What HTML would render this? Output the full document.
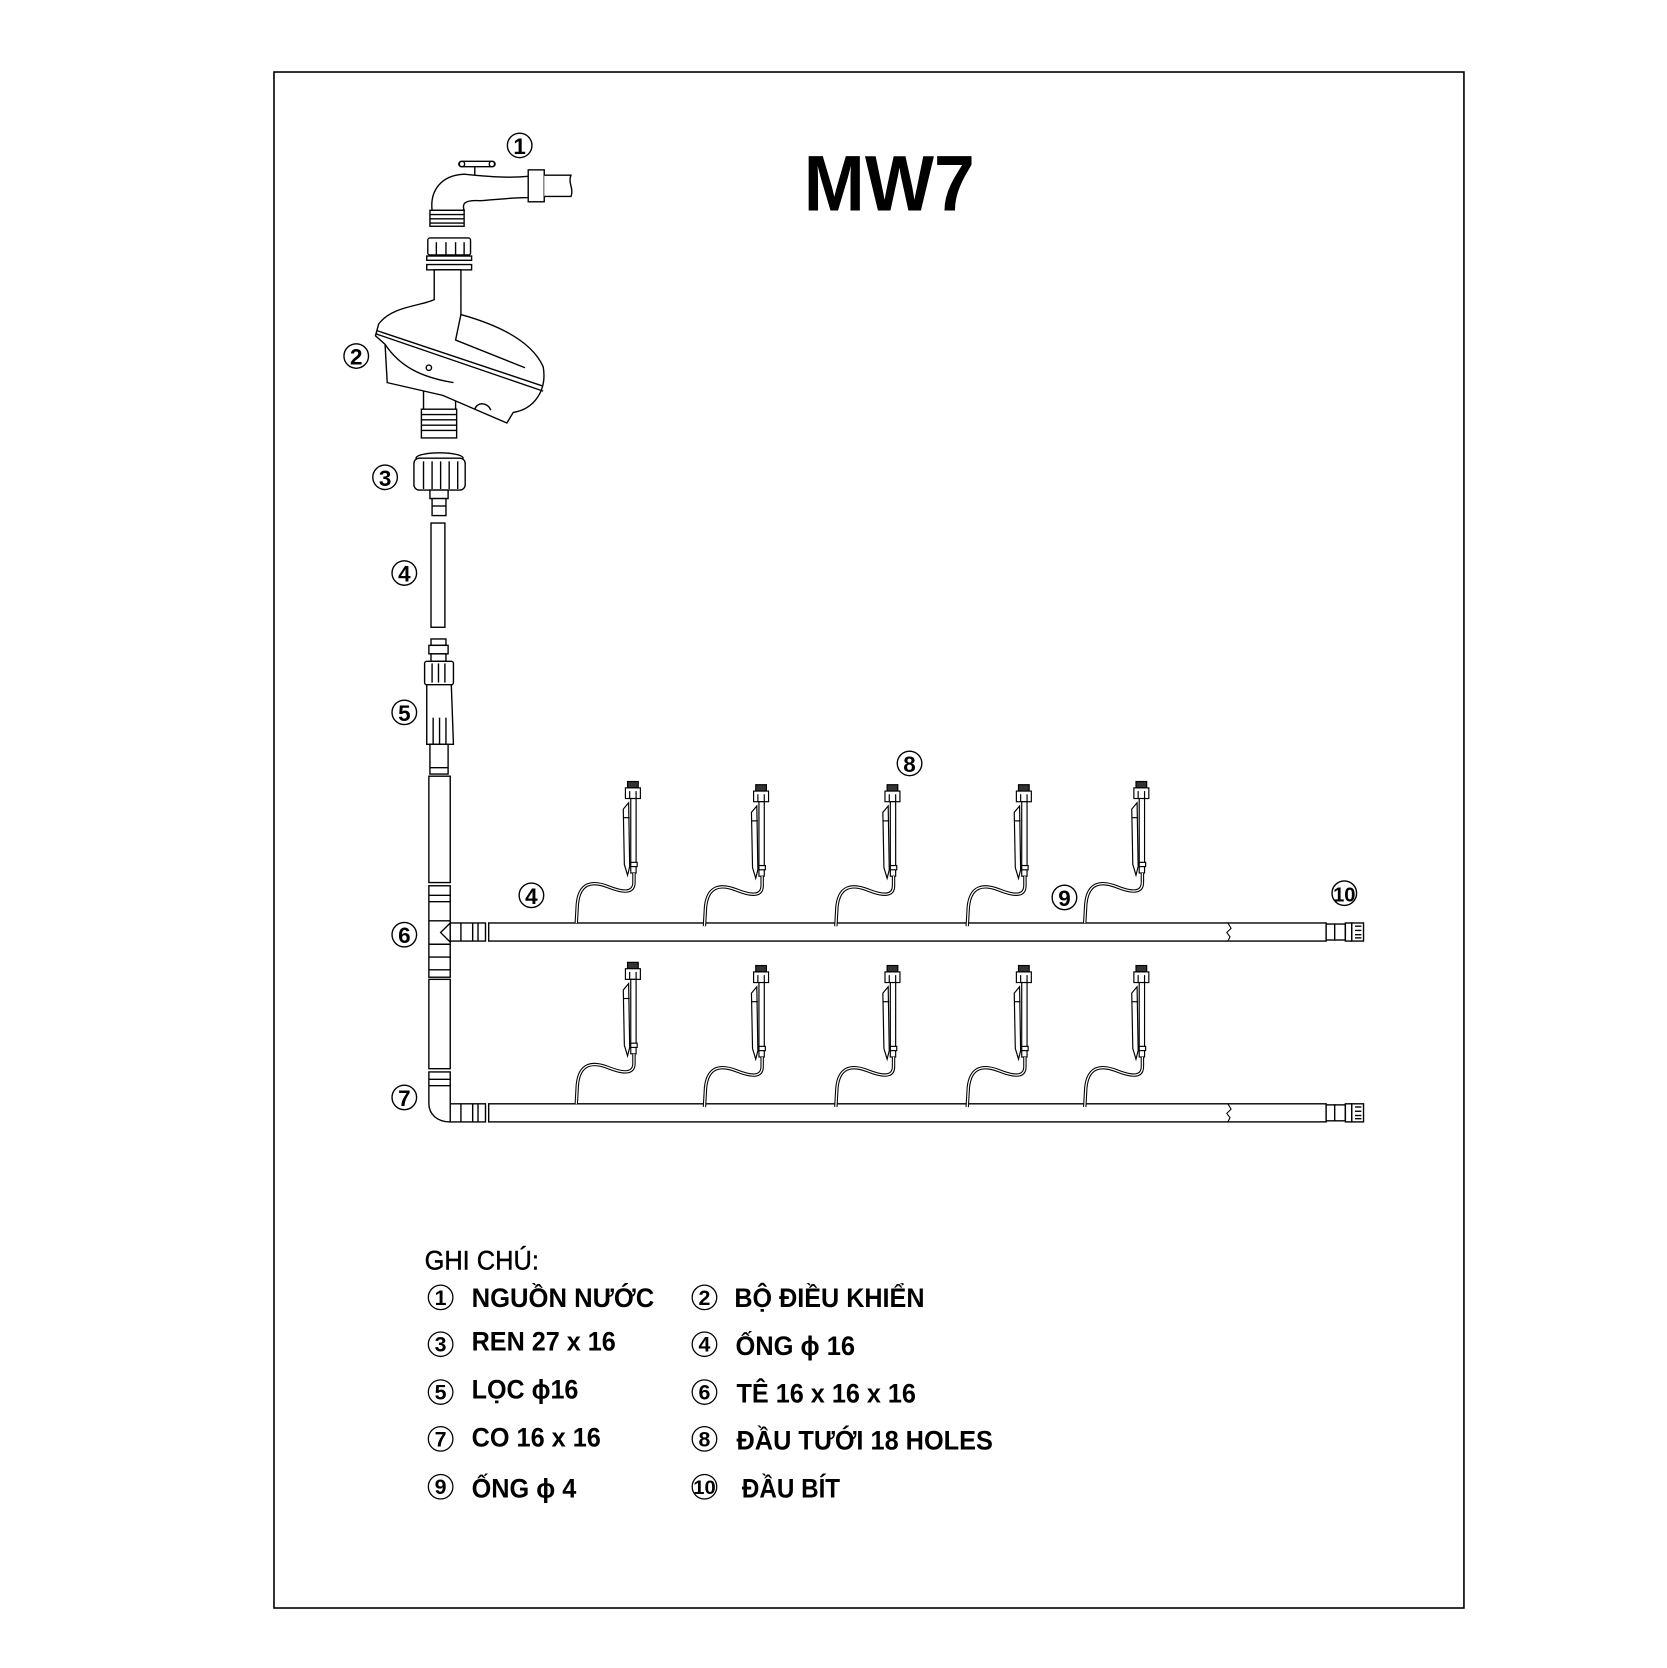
<!DOCTYPE html>
<html><head><meta charset="utf-8"><style>
html,body{margin:0;padding:0;background:#fff;}
svg{display:block;}
text{font-family:"Liberation Sans",Arial,sans-serif;}
</style></head><body>
<svg width="1667" height="1668" viewBox="5.5 0.3 1560.6 1568.1" preserveAspectRatio="none" xmlns="http://www.w3.org/2000/svg">
<defs>
<g id="sp" fill="#fff" stroke="#000" stroke-width="1.1">
  <rect x="-5" y="0" width="10" height="6" fill="#333"/>
  <rect x="-7" y="6" width="14" height="10"/>
  <line x1="-3" y1="9" x2="-3" y2="16"/><line x1="3" y1="9" x2="3" y2="16"/>
  <path d="M-4,20 L-9,26 L-8,78 L-5,88 L-3,80 Z"/>
  <rect x="-2" y="16" width="5" height="70"/>
  <line x1="-9" y1="34" x2="-3" y2="34"/>
  <rect x="-2" y="76" width="6" height="4"/>
  <path d="M1,86 L1,95 C1,107 -13,103 -23,99 C-38,93 -50,95 -52,115 L-53,133" fill="none" stroke-width="3.2"/>
  <path d="M1,86 L1,95 C1,107 -13,103 -23,99 C-38,93 -50,95 -52,115 L-53,133" fill="none" stroke="#fff" stroke-width="1.2"/>
</g>
<g id="pipe" fill="#fff" stroke="#000" stroke-width="1.3">
  <rect x="463" y="0" width="784" height="17"/>
  <path d="M1155,0 l3,5 l-4,4 l3,4 l-2,4" fill="none" stroke-width="1"/>
  <rect x="1247" y="1" width="8" height="15"/>
  <rect x="1255" y="1" width="10" height="15"/>
  <rect x="1265" y="0" width="6" height="17"/>
  <rect x="1271" y="0" width="11" height="17"/>
  <line x1="1274" y1="3" x2="1280" y2="3"/><line x1="1274" y1="7" x2="1280" y2="7"/><line x1="1274" y1="11" x2="1280" y2="11"/><line x1="1274" y1="14" x2="1280" y2="14"/>
</g>
</defs>

<rect x="262" y="68" width="1114" height="1444" fill="none" stroke="#000" stroke-width="1.5"/>

<text x="758" y="198" font-size="74" font-weight="bold" textLength="160" lengthAdjust="spacingAndGlyphs">MW7</text>

<g fill="#fff" stroke="#000" stroke-width="1.3">
  <line x1="450" y1="155" x2="450" y2="168"/>
  <rect x="435" y="152" width="34" height="5" rx="2.5"/>
  <circle cx="438" cy="154.5" r="2.5"/><circle cx="466" cy="154.5" r="2.5"/>
  <path d="M410,198 C408,180 418,165 440,164 C460,166 480,168 500,166 L500,186 C485,186 470,188 455,189 C440,188 438,192 440,198 Z"/>
  <rect x="500" y="160" width="15" height="30"/>
  <path d="M515,165 L540,165 C537,172 543,178 540,185 L515,185"/>
  <rect x="408" y="198" width="32" height="15"/>
  <line x1="408" y1="202" x2="440" y2="202"/><line x1="408" y1="206" x2="440" y2="206"/><line x1="408" y1="210" x2="440" y2="210"/>
  <rect x="406" y="224" width="40" height="16" rx="2"/>
  <line x1="414" y1="228" x2="414" y2="240"/><line x1="423" y1="228" x2="423" y2="240"/><line x1="432" y1="228" x2="432" y2="240"/><line x1="440" y1="228" x2="440" y2="240"/>
  <rect x="405" y="241" width="42" height="4"/>
  <rect x="405" y="249" width="42" height="5"/>
  <rect x="402" y="355" width="30" height="32"/>
  <rect x="400" y="385" width="33" height="27"/>
  <line x1="400" y1="390" x2="433" y2="390"/><line x1="400" y1="395" x2="433" y2="395"/><line x1="400" y1="400" x2="433" y2="400"/><line x1="400" y1="405" x2="433" y2="405"/>
  <path d="M412,254 L412,282 C400,288 372,288 360,305 L357,316 L366,324 L368,360 L420,372 L480,398 L486,388 C505,385 518,368 514,345 C505,325 480,308 437,296 L437,254 Z"/>
  <line x1="357" y1="314" x2="514" y2="368"/>
  <line x1="358" y1="311" x2="513" y2="363"/>
  <path d="M437,296 L432,320 L497,346" fill="none"/>
  <path d="M366,324 C380,345 400,355 430,360" fill="none"/>
  <circle cx="407" cy="346" r="2.5"/>
  <path d="M450,385 C452,378 462,378 465,386" fill="none"/>
  <ellipse cx="417" cy="431" rx="22" ry="5"/>
  <rect x="393" y="431" width="48" height="30" rx="5"/>
  <line x1="402" y1="434" x2="402" y2="460"/><line x1="410" y1="434" x2="410" y2="460"/><line x1="418" y1="434" x2="418" y2="460"/><line x1="426" y1="434" x2="426" y2="460"/><line x1="434" y1="434" x2="434" y2="460"/>
  <rect x="408" y="461" width="17" height="8"/>
  <rect x="410" y="469" width="13" height="16"/>
  <line x1="410" y1="476" x2="423" y2="476"/>
  <rect x="409" y="492" width="13" height="98"/>
  <rect x="409" y="601" width="14" height="6"/><rect x="407" y="607" width="18" height="8"/><rect x="409" y="615" width="14" height="7"/>
  <rect x="403" y="622" width="27" height="22" rx="2"/>
  <line x1="410" y1="624" x2="410" y2="642"/><line x1="416" y1="624" x2="416" y2="642"/><line x1="422" y1="624" x2="422" y2="642"/>
  <path d="M405,644 L428,644 L430,700 L405,700 Z"/>
  <line x1="411" y1="675" x2="411" y2="700"/><line x1="417" y1="675" x2="417" y2="700"/><line x1="423" y1="675" x2="423" y2="700"/>
  <rect x="408" y="700" width="17" height="28"/>
  <line x1="408" y1="722" x2="425" y2="722"/>
  <rect x="407" y="730" width="20" height="100"/>
  <rect x="407" y="833" width="20" height="86"/>
  <line x1="407" y1="842" x2="427" y2="842"/><line x1="407" y1="848" x2="427" y2="848"/>
  <line x1="407" y1="866" x2="427" y2="866"/><line x1="407" y1="888" x2="427" y2="888"/>
  <line x1="407" y1="900" x2="427" y2="900"/><line x1="407" y1="912" x2="427" y2="912"/>
  <path d="M427,868 L418,877 L427,886" fill="none"/>
  <rect x="427" y="868" width="33" height="17"/>
  <line x1="437" y1="868" x2="437" y2="885"/><line x1="448" y1="868" x2="448" y2="885"/><line x1="453" y1="868" x2="453" y2="885"/>
  <rect x="407" y="921" width="20" height="84"/>
  <path d="M407,1008 L427,1008 L427,1038 L460,1038 L460,1055 L427,1055 C415,1055 407,1048 407,1038 Z"/>
  <line x1="407" y1="1015" x2="427" y2="1015"/><line x1="407" y1="1021" x2="427" y2="1021"/>
  <line x1="427" y1="1038" x2="427" y2="1055"/><line x1="437" y1="1038" x2="437" y2="1055"/><line x1="448" y1="1038" x2="448" y2="1055"/><line x1="453" y1="1038" x2="453" y2="1055"/>
</g>

<use href="#pipe" transform="translate(0,868)"/>
<use href="#pipe" transform="translate(0,1038)"/>

<use href="#sp" transform="translate(598,735)"/>
<use href="#sp" transform="translate(718,738)"/>
<use href="#sp" transform="translate(841,738)"/>
<use href="#sp" transform="translate(964,738)"/>
<use href="#sp" transform="translate(1074,735)"/>
<use href="#sp" transform="translate(598,905)"/>
<use href="#sp" transform="translate(718,908)"/>
<use href="#sp" transform="translate(841,908)"/>
<use href="#sp" transform="translate(964,908)"/>
<use href="#sp" transform="translate(1074,908)"/>

<g font-weight="bold" font-size="21" text-anchor="middle">
  <g fill="none" stroke="#000" stroke-width="1.3">
    <circle cx="492" cy="137" r="11.5"/><circle cx="339" cy="335" r="11.5"/><circle cx="366" cy="449" r="11.5"/>
    <circle cx="384" cy="539" r="11.5"/><circle cx="384" cy="670" r="11.5"/><circle cx="384" cy="879" r="11.5"/>
    <circle cx="384" cy="1032" r="11.5"/><circle cx="857" cy="718" r="11.5"/><circle cx="503" cy="842" r="11.5"/>
    <circle cx="1002" cy="844" r="11.5"/><circle cx="1264" cy="840" r="11.5"/>
  </g>
  <text x="492" y="145">1</text><text x="339" y="343">2</text><text x="366" y="457">3</text>
  <text x="384" y="547">4</text><text x="384" y="678">5</text><text x="384" y="887">6</text>
  <text x="384" y="1040">7</text><text x="857" y="726">8</text><text x="503" y="850">4</text>
  <text x="1002" y="852">9</text><text x="1264" y="848" font-size="19" textLength="21" lengthAdjust="spacingAndGlyphs">10</text>
</g>

<g font-size="25">
  <text x="403" y="1194" textLength="107" lengthAdjust="spacingAndGlyphs" stroke="#000" stroke-width="0.4">GHI CHÚ:</text>
  <g fill="none" stroke="#000" stroke-width="1.2">
    <circle cx="418" cy="1220" r="11.5"/><circle cx="418" cy="1264" r="11.5"/><circle cx="418" cy="1309" r="11.5"/><circle cx="418" cy="1353" r="11.5"/><circle cx="418" cy="1398" r="11.5"/>
    <circle cx="665" cy="1220" r="11.5"/><circle cx="665" cy="1264" r="11.5"/><circle cx="665" cy="1309" r="11.5"/><circle cx="665" cy="1353" r="11.5"/><circle cx="665" cy="1398" r="11.5"/>
  </g>
  <g font-size="20" text-anchor="middle" font-weight="bold">
    <text x="418" y="1227">1</text><text x="418" y="1271">3</text><text x="418" y="1316">5</text><text x="418" y="1360">7</text><text x="418" y="1405">9</text>
    <text x="665" y="1227">2</text><text x="665" y="1271">4</text><text x="665" y="1316">6</text><text x="665" y="1360">8</text><text x="665" y="1405" font-size="18" textLength="21" lengthAdjust="spacingAndGlyphs">10</text>
  </g>
  <g font-weight="bold">
    <text x="447" y="1229" textLength="171" lengthAdjust="spacingAndGlyphs">NGUỒN NƯỚC</text>
    <text x="693" y="1229" textLength="178" lengthAdjust="spacingAndGlyphs">BỘ ĐIỀU KHIỂN</text>
    <text x="447" y="1270" textLength="135" lengthAdjust="spacingAndGlyphs">REN 27 x 16</text>
    <text x="694" y="1274" textLength="112" lengthAdjust="spacingAndGlyphs">ỐNG ϕ 16</text>
    <text x="447" y="1315" textLength="100" lengthAdjust="spacingAndGlyphs">LỌC ϕ16</text>
    <text x="695" y="1319" textLength="168" lengthAdjust="spacingAndGlyphs">TÊ 16 x 16 x 16</text>
    <text x="447" y="1360" textLength="121" lengthAdjust="spacingAndGlyphs">CO 16 x 16</text>
    <text x="695" y="1363" textLength="240" lengthAdjust="spacingAndGlyphs">ĐẦU TƯỚI 18 HOLES</text>
    <text x="447" y="1408" textLength="98" lengthAdjust="spacingAndGlyphs">ỐNG ϕ 4</text>
    <text x="700" y="1408" textLength="92" lengthAdjust="spacingAndGlyphs">ĐẦU BÍT</text>
  </g>
</g>
</svg>
</body></html>
